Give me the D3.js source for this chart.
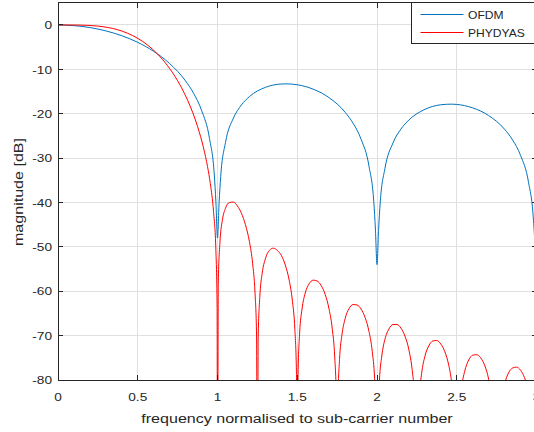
<!DOCTYPE html>
<html>
<head>
<meta charset="utf-8">
<script src="https://cdn.jsdelivr.net/npm/d3@7"></script>
<style>
  body { margin: 0; background: #fff; }
  text { font-family: "Liberation Sans", Arial, Helvetica, sans-serif; fill: #262626; }
</style>
</head>
<body>
<svg id="chart" width="534" height="432"></svg>
<script>
// values
const ofdmFreq = [0, 0.1, 0.2, 0.3, 0.4, 0.5, 0.6, 0.7, 0.8, 0.85, 0.9, 0.95, 0.98, 0.99, 1.0,
  1.01, 1.02, 1.05, 1.1, 1.15, 1.2, 1.3, 1.4, 1.43, 1.5, 1.6, 1.7, 1.8, 1.85, 1.9, 1.95, 1.98, 1.99, 2.0,
  2.01, 2.02, 2.05, 2.1, 2.15, 2.2, 2.3, 2.4, 2.47, 2.5, 2.6, 2.7, 2.8, 2.85, 2.9, 2.95, 2.98, 2.99, 3.0];
const ofdmMag = [0, -0.14, -0.58, -1.33, -2.42, -3.92, -5.94, -8.69, -12.62, -15.39, -19.23, -25.61, -33.81, -39.91, -48.0,
  -40.09, -34.16, -26.48, -20.97, -18.02, -16.14, -14.06, -13.30, -13.27, -13.47, -14.46, -16.39, -19.66, -22.15, -25.72, -31.86, -39.92, -45.98, -54.0,
  -46.07, -40.09, -32.29, -26.59, -23.45, -21.41, -19.02, -17.98, -17.84, -17.90, -18.68, -20.41, -23.50, -25.90, -29.39, -35.45, -43.47, -49.51, -60.0];

const phydyasFreq = [0, 0.0625, 0.125, 0.1875, 0.25, 0.3125, 0.375, 0.4375, 0.5, 0.5625, 0.625, 0.6875, 0.75,
  0.775, 0.8125, 0.875, 0.9125, 0.9375, 0.955, 0.975, 0.99, 0.9975, 1.0,
  1.005, 1.015, 1.03, 1.05, 1.075, 1.1, 1.125, 1.15, 1.175, 1.2, 1.22, 1.235, 1.245, 1.25,
  1.255, 1.265, 1.28, 1.3, 1.325, 1.35, 1.375, 1.4, 1.425, 1.45, 1.47, 1.485, 1.495, 1.5,
  1.505, 1.515, 1.53, 1.55, 1.575, 1.6, 1.625, 1.65, 1.675, 1.7, 1.72, 1.735, 1.745, 1.75,
  1.755, 1.765, 1.78, 1.8, 1.825, 1.85, 1.875, 1.9, 1.925, 1.95, 1.97, 1.985, 1.995, 2.0,
  2.005, 2.015, 2.03, 2.05, 2.075, 2.1, 2.125, 2.15, 2.175, 2.2, 2.22, 2.235, 2.245, 2.25,
  2.255, 2.265, 2.28, 2.3, 2.325, 2.35, 2.375, 2.4, 2.425, 2.45, 2.47, 2.485, 2.495, 2.5,
  2.505, 2.515, 2.53, 2.55, 2.575, 2.6, 2.625, 2.65, 2.675, 2.7, 2.72, 2.735, 2.745, 2.75,
  2.755, 2.765, 2.78, 2.8, 2.825, 2.85, 2.875, 2.9, 2.925, 2.95, 2.97, 2.985, 2.995, 3.0];
const phydyasMag = [0, -0.002, -0.02, -0.086, -0.247, -0.559, -1.082, -1.877, -3.01, -4.55, -6.58, -9.2, -12.57,
  -14.18, -16.95, -22.88, -27.7, -31.91, -35.74, -42.03, -50.9, -63.5, -120,
  -57.9, -49.1, -44.1, -41.3, -40.0, -39.9, -40.8, -42.4, -45.0, -48.8, -53.7, -60.2, -70.1, -120,
  -70.5, -61.4, -56.0, -52.7, -50.8, -50.3, -50.8, -51.9, -54.1, -57.6, -62.3, -68.6, -78.4, -120,
  -78.7, -69.4, -64.0, -60.4, -58.3, -57.5, -57.7, -58.7, -60.7, -64.1, -68.6, -74.8, -84.5, -120,
  -84.7, -75.4, -69.9, -66.2, -63.9, -63.0, -63.1, -64.0, -65.9, -69.1, -73.5, -79.7, -89.3, -120,
  -89.5, -80.2, -74.6, -70.8, -68.5, -67.5, -67.5, -68.3, -70.1, -73.2, -77.6, -83.7, -93.3, -120,
  -93.5, -84.1, -78.5, -74.7, -72.3, -71.2, -71.1, -71.9, -73.6, -76.7, -81.1, -87.1, -96.7, -120,
  -96.9, -87.5, -81.8, -78.0, -75.5, -74.4, -74.3, -75.0, -76.7, -79.8, -84.1, -90.1, -99.7, -120,
  -99.9, -90.5, -84.8, -80.9, -78.4, -77.3, -77.1, -77.8, -79.5, -82.5, -86.8, -92.8, -102.4, -120];

const xTicks = [0, 0.5, 1, 1.5, 2, 2.5, 3];
const yTicks = [0, -10, -20, -30, -40, -50, -60, -70, -80];
const seriesNames = ['OFDM', 'PHYDYAS'];
const seriesColors = ['#0072bd', '#ff0000'];

const svg = d3.select('#chart');
const plotLeft = 58, plotRight = 536.5, plotTop = 2.8, plotBottom = 380;
const stretch = 1.19; // reference text is drawn wide

const x = d3.scaleLinear().domain([0, 3]).range([plotLeft, plotRight]);
const y = d3.scaleLinear().domain([-80, 5]).range([plotBottom, plotTop]);

svg.append('defs').append('clipPath').attr('id', 'plot-clip')
  .append('rect').attr('x', plotLeft).attr('y', plotTop)
  .attr('width', plotRight - plotLeft).attr('height', plotBottom - plotTop);

// grid
const grid = svg.append('g').attr('stroke', '#e0e0e0').attr('stroke-width', 1).attr('shape-rendering', 'crispEdges');
grid.selectAll('.gx').data(xTicks).join('line')
  .attr('x1', d => x(d)).attr('x2', d => x(d)).attr('y1', plotTop).attr('y2', plotBottom);
grid.selectAll('.gy').data(yTicks).join('line')
  .attr('x1', plotLeft).attr('x2', plotRight).attr('y1', d => y(d)).attr('y2', d => y(d));

// curves
const line = d3.line().x(d => x(d[0])).y(d => y(d[1])).curve(d3.curveMonotoneX);
const series = [
  d3.zip(ofdmFreq, ofdmMag),
  d3.zip(phydyasFreq, phydyasMag)
];
svg.append('g').attr('clip-path', 'url(#plot-clip)')
  .selectAll('path').data(series).join('path')
    .attr('d', line)
    .attr('fill', 'none')
    .attr('stroke', (d, i) => seriesColors[i])
    .attr('stroke-width', 1);

// axes box and ticks
const axes = svg.append('g').attr('stroke', '#262626').attr('stroke-width', 1).attr('shape-rendering', 'crispEdges');
axes.append('rect').attr('x', plotLeft).attr('y', plotTop)
  .attr('width', plotRight - plotLeft).attr('height', plotBottom - plotTop).attr('fill', 'none');
const tickLen = 5;
xTicks.forEach(t => {
  axes.append('line').attr('x1', x(t)).attr('x2', x(t)).attr('y1', plotBottom).attr('y2', plotBottom - tickLen);
  axes.append('line').attr('x1', x(t)).attr('x2', x(t)).attr('y1', plotTop).attr('y2', plotTop + tickLen);
});
yTicks.forEach(t => {
  axes.append('line').attr('x1', plotLeft).attr('x2', plotLeft + tickLen).attr('y1', y(t)).attr('y2', y(t));
  axes.append('line').attr('x1', plotRight).attr('x2', plotRight - tickLen).attr('y1', y(t)).attr('y2', y(t));
});

// tick labels
svg.selectAll('.xl').data(xTicks).join('g')
  .attr('transform', d => `translate(${x(d)},400.5) scale(${stretch},1)`)
  .append('text').attr('text-anchor', 'middle').attr('font-size', 11.5).text(d => d);
svg.selectAll('.yl').data(yTicks).join('g')
  .attr('transform', d => `translate(52,${y(d)}) scale(${stretch},1)`)
  .append('text').attr('text-anchor', 'end').attr('dy', '0.36em').attr('font-size', 11.5).text(d => d);

// axis titles
svg.append('g').attr('transform', `translate(297,422.5) scale(${stretch},1)`)
  .append('text').attr('text-anchor', 'middle').attr('font-size', 13.5)
  .text('frequency normalised to sub-carrier number');
svg.append('g').attr('transform', `translate(23,192) rotate(-90) scale(${stretch},1)`)
  .append('text').attr('text-anchor', 'middle').attr('font-size', 13.5)
  .text('magnitude [dB]');

// legend
const legend = svg.append('g');
legend.append('rect').attr('x', 411).attr('y', plotTop).attr('width', 140).attr('height', 41)
  .attr('fill', '#fff').attr('stroke', '#262626').attr('stroke-width', 1).attr('shape-rendering', 'crispEdges');
seriesNames.forEach((name, i) => {
  const ly = 14.5 + i * 18;
  legend.append('line').attr('x1', 420.5).attr('x2', 463.5).attr('y1', ly).attr('y2', ly)
    .attr('stroke', seriesColors[i]).attr('stroke-width', 1);
  legend.append('g').attr('transform', `translate(468,${ly}) scale(1.05,1)`)
    .append('text').attr('dy', '0.36em').attr('font-size', 11.5).text(name);
});
</script>
</body>
</html>
